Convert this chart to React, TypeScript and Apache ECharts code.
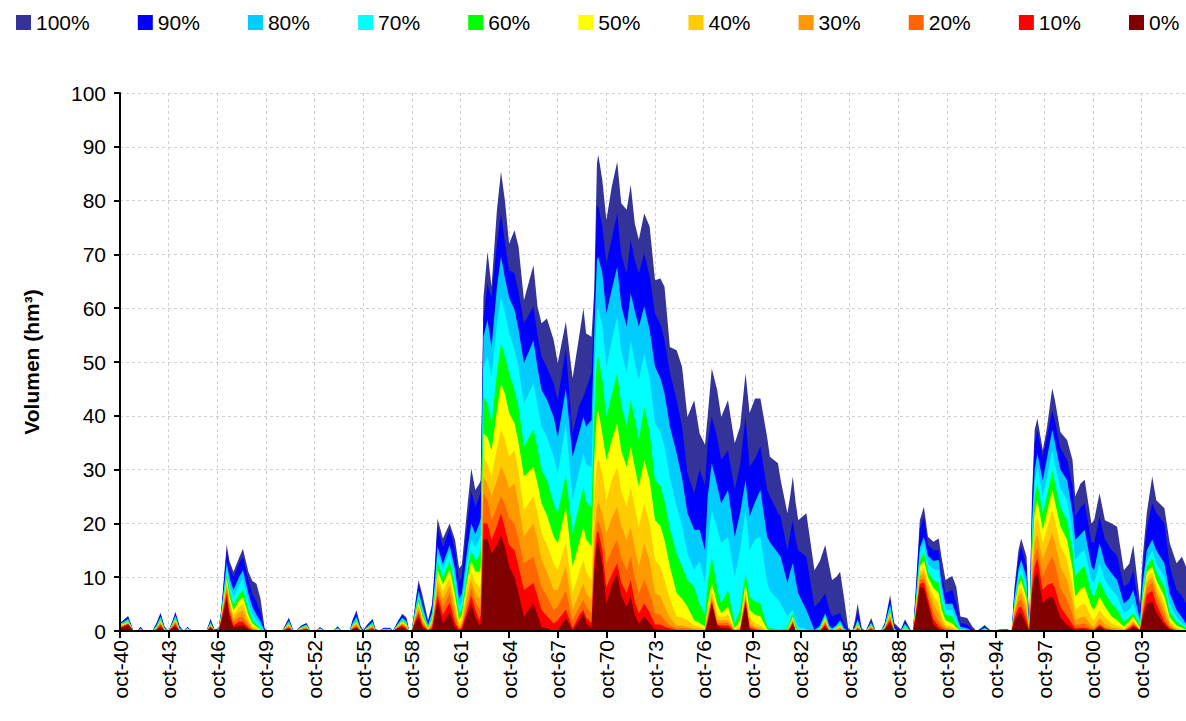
import React, { useEffect, useRef } from "react";
import * as echarts from "echarts";

// months since oct-1940 (x positions of the sampled values)
const months = [
  0,6,10,13,15,18,24,27,30,33,36,39,41,44,47,50,53,64,67,70,73,75,79,81,84,88,91,95,98,101,104,107,109,
  120,123,125,128,130,134,138,141,145,148,152,158,161,164,170,172,175,178,180,183,187,189,192,195,200,202,206,209,212,214,216,
  219,221,224,228,231,233,235,239,244,248,251,253,257,260,263,266,267,
  269,272,275,279,282,285,288,292,295,299,306,309,312,316,321,324,330,335,340,343,345,349,
  351,353,354,357,360,364,368,371,375,378,381,384,388,392,396,400,403,407,412,416,420,425,429,433,
  435,438,442,445,450,455,459,463,466,470,474,479,481,487,489,494,496,498,500,502,508,514,
  518,522,525,527,530,533,536,539,542,544,546,549,552,556,559,563,566,570,573,575,578,581,585,587,589,592,595,598,602,606,608,611,616,619,622,627,631,634,637,640,644,647,651,657,660,
  662,665,667,671,673,675,677,679,683,686,690,692,696,701,705,707,711,714,719,721,725,729,734,738,743,747,750,755,757,760,764,767,773,777,782,786,789,
];

const p100 = [
  1.5,2.8,0,0,0.8,0,0,1.5,3.4,0.8,0,2.0,3.6,1.0,0,0.8,0,0,2.3,0.3,0.5,4,16.1,13,11,13.5,15.3,11,9.3,8.8,6,0.5,0,
  0,1.5,2.5,0.3,0,1.0,1.5,0,0,0.75,0,0,0.9,0,0,2,3.85,1.0,0.2,1.2,2.3,0.4,0,0.6,0.6,0,2.0,3.2,2.5,0,0,
  6,9.5,6.5,2.0,5,12,20.9,17.2,20,16.9,11.6,12.3,22.8,30.2,26.2,27.4,28,
  62,70.5,64,78.3,85.4,79.8,72,74.5,71.4,61.5,68,60.3,57.2,58.1,54.1,49.8,57.5,47,55,60,55.3,54.7,
  63.4,86.9,88.5,83.8,76.4,82.6,87.2,79.5,78.3,82.9,75.8,72.7,77.6,75.2,65.2,65.5,64,52.8,52.2,49.1,39.8,42.9,36.7,34.6,
  40,48.8,44.8,39.8,42.9,34.9,38,47.9,40.5,43.2,43.2,36,32.4,31.2,28,21.9,25,28.7,24,20.6,21.9,11.3,
  13,16,12,9.5,10,11,6,0.5,0,2,5.1,0.5,0,2.4,0.2,0,1.5,6.7,1.5,1,0.3,2.2,0.3,0,8,20.6,23.1,17.5,16.6,17.2,13.8,9.5,10.2,8.2,2.7,2.4,0.8,0,0.5,1.1,0.2,0,0.3,0.3,0,
  8,15,17.2,13.8,0.5,25,37.4,39.5,33.6,37.7,45.1,42.9,37,35.5,31.8,25,27.4,28.1,20,20.6,25.6,20.6,20,19.4,11.3,12.5,16,5.1,13.8,22,28.7,24.3,22.8,16.3,12.6,13.8,12,
];
const p90 = [
  1.4,2.6,0,0,0.7,0,0,1.3,3.1,0.6,0,1.8,3.3,0.8,0,0.7,0,0,2.0,0.2,0.4,3.8,15,12,10,12.5,13.8,9.5,6.9,5.5,3.5,0.3,0,
  0,1.3,2.2,0.2,0,0.9,1.4,0,0,0.6,0,0,0.8,0,0,1.7,3.3,0.8,0.1,1.0,2.0,0.3,0,0.5,0.5,0,1.8,2.9,2.2,0,0,
  5.5,8.8,5.5,1.6,4.5,11,19.4,15.5,19,15,9,10,20,26,23,25,26,
  58,64.6,62,72,77.6,72,67,66.5,63,57.2,60.3,55,51,49,46,43,52.5,36.7,42,43.6,45,48,
  60,78.9,79,75.2,68.3,73,77.6,70,66.5,72.7,69,66.5,70.2,66,59,57,54.1,48,43,38,29.3,25.6,30,27,
  35,39.8,36,31.8,33.6,26.2,31,39.8,30.5,32,34.3,26.2,25,22,21.3,15,18,20.6,17,15,13.8,4.5,
  5.5,7,4,2.7,3,3.3,1.5,0.2,0,1.2,3.5,0.2,0,2,0,0,1.3,6,1,0.5,0.2,1.8,0,0,7,19,21.3,16,15,15,11,7,7.6,5,1.5,1.2,0.3,0,0.3,0.8,0,0,0.3,0.3,0,
  7,13.5,15.7,12,0.3,23,35,37.4,32.4,36,41,39,34,31.8,27,21.3,23,23.7,16.5,16.3,21.3,17,15,14,8.2,9,11.3,3,11,19,23.7,22,20,12,7.6,6.5,5.1,
];
const p80 = [
  1.3,2.3,0,0,0.5,0,0,1.0,2.7,0.5,0,1.6,2.9,0.6,0,0.6,0,0,1.7,0.1,0.3,3.5,12.8,10,7.6,10,11.3,7.0,4.5,3,1.8,0.1,0,
  0,1.1,1.9,0.1,0,0.8,1.2,0,0,0.5,0,0,0.6,0,0,1.4,2.7,0.6,0,0.8,1.7,0.2,0,0.4,0.4,0,1.5,2.5,1.8,0,0,
  4.8,7.5,4.5,1.1,3.6,9,15.7,12.5,16,11.5,6,7,15,20,18,20,21,
  54.7,57.8,52.8,64,69.6,65.5,62,59.7,56,49.8,54,49,44.8,43,39.8,36,45,32.4,37,39.8,38,39.2,
  55,69,69.5,66.5,59,63.5,67.7,60.5,56.6,62.8,59.5,56.6,60.3,56,49.1,47,44.2,38,33,28.5,21.9,18.8,18.8,15,
  25,31.2,27,23.7,26.2,17.5,22,28,21.3,24,26.2,17.5,16.5,14.5,13.8,8.9,11,12.6,9.5,7,3.9,0.2,
  1,3.3,1,0.5,1,2,0.5,0,0,0.8,2.2,0,0,1.6,0,0,1.1,5,0.6,0,0.1,1.4,0,0,6,15.5,17.5,14,13,13.2,9,5,5.1,3,0.8,0.5,0,0,0.2,0.6,0,0,0.3,0.2,0,
  6,11.5,13.2,10,0.2,20,30,33,28,32,37.4,35,30,28,22,16.9,18,18.8,12,11.3,16.3,12.5,10.7,9.5,5.1,6,7.6,2,9,15,17,15,12.6,7,3.9,2.5,1.4,
];
const p70 = [
  1.2,2.1,0,0,0.4,0,0,0.9,2.5,0.4,0,1.5,2.7,0.5,0,0.5,0,0,1.5,0.1,0.3,3.3,11.8,9,6.3,8.5,9.7,5.5,3.2,2,1.0,0,0,
  0,1.0,1.7,0.1,0,0.7,1.1,0,0,0.45,0,0,0.5,0,0,1.2,2.3,0.5,0,0.7,1.5,0.1,0,0.35,0.35,0,1.3,2.2,1.6,0,0,
  4.5,6.8,3.8,0.9,3.0,8,14.4,11.5,14.8,10,4.5,5.5,13,17,15.5,17,18,
  49,51,47.3,57,62,59,55.5,52.2,49,42.3,46,42,38,36,32.4,29.3,38.5,24.3,30,33,31,30.5,
  48,59.7,60,56.6,49.1,54,58.4,52,47.9,54.1,50,46.7,51.6,47,38.6,37,34.3,28.5,23.1,19.5,14.4,11.3,13,9,
  16,22.5,19,16.3,17.5,10.1,15,22.5,15,17,17.5,8.9,7.5,5.8,5.1,2.7,3.5,3.9,2,0.8,0.3,0,
  0.5,3.0,0.5,0,0.8,1.6,0.2,0,0,0.6,1.8,0,0,1.4,0,0,1,4.5,0.4,0,0,1.0,0,0,5.5,14.5,16.3,12.5,11.5,11.3,7.5,4,3.9,2,0.4,0.2,0,0,0.1,0.5,0,0,0.25,0.2,0,
  5.5,10.5,12,8.5,0.1,18,27.5,30.5,25,28.5,33.6,31,26.5,24.3,18.5,13.2,14.5,15,9.5,8.9,12.6,9.5,7.6,6.5,3.3,4,5.1,1.5,8,13,15,12.5,10.1,5,2.7,1.5,1,
];
const p60 = [
  1.1,1.9,0,0,0.3,0,0,0.8,2.2,0.3,0,1.3,2.4,0.4,0,0.4,0,0,1.3,0,0.2,3.1,10.5,7.5,4.8,6.8,7.6,4,2.0,1.2,0.5,0,0,
  0,0.9,1.5,0.1,0,0.6,1.0,0,0,0.4,0,0,0.45,0,0,1.0,2.0,0.4,0,0.6,1.3,0.1,0,0.3,0.3,0,1.2,2.0,1.4,0,0,
  4,6.0,3.2,0.7,2.5,7,12.9,10,13,8,3,4,11,15,13,14,15,
  43.6,42.3,38.6,48,53.5,51,48,44.8,41.5,34.3,37.4,34,29.9,28,23.7,21.9,29,18.2,23.5,26.8,24,23,
  40,50.4,51,46.7,39.8,44,47.9,42,38,42.9,39.5,35.5,41.7,37,28,27,24.3,19,14.4,12,9.5,8.2,5,3,
  9,13.8,8,5.1,7.6,1.4,4,10.7,6.4,5.5,5.1,0.8,0.5,0.3,0.3,0.5,2,3.3,1,0.2,0,0,
  0.3,2.8,0.3,0,0.6,1.3,0,0,0,0.5,1.5,0,0,1.2,0,0,0.9,4,0.3,0,0,0.7,0,0,5,13,14.7,11,9.5,8.9,5.5,3,2.7,1.2,0.2,0,0,0,0,0.4,0,0,0.2,0.1,0,
  5,9.5,10.7,7,0,16,25,27.4,21.9,25,29.9,27.5,23,20.6,15,10.1,11.5,12,7,6.4,9.5,7,5.1,4,1.7,2.5,3.3,1,7,12,13.5,11,8.2,3.5,1.7,1,0.6,
];
const p50 = [
  1.0,1.7,0,0,0.25,0,0,0.7,2.0,0.25,0,1.2,2.2,0.3,0,0.35,0,0,1.2,0,0.2,2.9,9.8,6.5,3.8,5.6,6.3,3,1.4,0.8,0.3,0,0,
  0,0.8,1.3,0,0,0.5,0.9,0,0,0.35,0,0,0.4,0,0,0.9,1.7,0.3,0,0.5,1.1,0,0,0.25,0.25,0,1.1,1.8,1.2,0,0,
  3.6,5.4,2.7,0.5,2.1,6.2,11.3,8.7,11.5,6.5,2,3,9.5,13,11,11,12,
  36.7,36,33.6,41,46,44,40.5,38.6,35,28.7,30.5,27.5,23.7,21.5,17.5,16.3,23,12,16.5,19.4,17,15.7,
  32,40.5,41,36.7,31.8,35.5,38.6,33.5,30.5,34.3,30.5,26.8,31.8,28,20.6,19.5,16.9,12,7,6,4.5,2,1.5,0.8,
  5,8.9,5,3.3,4.5,0.5,2,8.9,3.9,3,2.7,0.3,0.2,0.1,0,0.3,1.5,2.7,0.5,0,0,0,
  0.2,2.5,0.2,0,0.5,1.1,0,0,0,0.4,1.2,0,0,1.0,0,0,0.8,3.5,0.2,0,0,0.5,0,0,4.6,12,13.2,10,8,7,4,2,1.4,0.6,0,0,0,0,0,0.3,0,0,0.15,0,0,
  4.5,8.5,9.5,6,0,14,22,24.3,18.8,22,26.2,24,19.5,16.9,11.5,6.4,7.8,8.2,4.5,3.9,6.4,4.5,2.7,2,0.8,1.8,2.7,0.5,6.2,11,12,9.5,6.4,2.5,1,0.6,0.3,
];
const p40 = [
  0.9,1.6,0,0,0.2,0,0,0.6,1.8,0.2,0,1.1,2.0,0.25,0,0.3,0,0,1.1,0,0.1,2.7,9.2,5.7,2.9,4.5,5.1,2.2,0.9,0.5,0.2,0,0,
  0,0.7,1.2,0,0,0.45,0.8,0,0,0.3,0,0,0.35,0,0,0.8,1.5,0.25,0,0.4,1.0,0,0,0.2,0.2,0,1.0,1.6,1.0,0,0,
  3.3,4.9,2.2,0.4,1.7,5.5,10.1,7.4,10,5,1.3,2.2,8,11,9,8,9,
  32.4,31,28.7,34,37.4,35.5,32.5,33.6,29.5,22.5,25,22,18.2,16,12.6,11.3,16.5,7,11,13.2,11,9.5,
  25,31.2,32,29.3,24.3,28,30.5,26,23.1,26.8,23,19.4,23.7,20,13.2,12,9.5,6,2.7,2.5,2,1,0.8,0.4,
  4,7.6,3,2.5,3,0.3,1,7.6,2.5,1.5,1,0.1,0,0,0,0.2,1.2,2.3,0.3,0,0,0,
  0.1,2.2,0.1,0,0.4,0.9,0,0,0,0.3,1.0,0,0,0.9,0,0,0.7,3.2,0,0,0,0.4,0,0,4.2,11,11.8,9,6.5,5.1,2.8,1.2,0.8,0.3,0,0,0,0,0,0.2,0,0,0.1,0,0,
  4,7.5,8.2,5,0,12.5,19.5,21.3,16.3,19,22.5,20.5,16,13.2,8.5,3.9,4.8,5.1,2.5,2,3.9,2.5,1.4,1,0.4,1.3,2,0.3,5.5,10,11,8.5,5.1,1.8,0.6,0.3,0.2,
];
const p30 = [
  0.8,1.5,0,0,0.15,0,0,0.5,1.6,0.15,0,1.0,1.8,0.2,0,0.25,0,0,1.0,0,0.1,2.5,8.5,5,2.3,3.5,3.8,1.5,0.5,0.3,0.1,0,0,
  0,0.6,1.0,0,0,0.4,0.7,0,0,0.25,0,0,0.3,0,0,0.7,1.3,0.2,0,0.35,0.9,0,0,0.15,0.15,0,0.9,1.4,0.8,0,0,
  3.0,4.4,1.8,0.3,1.4,4.8,8.9,6,8.5,3.8,0.8,1.5,6.5,9.5,7,6,7,
  28.6,27.4,25,28,30.5,29,26.5,27.4,23.5,17.5,20,17,13.2,11,7.6,7.6,12,3.9,7,8.9,7,5.8,
  18,23.1,24,21.9,18.2,21,23.1,19.5,16.9,19.4,15.5,12,16.3,13,7,6.5,4.5,2.5,1,1,0.8,0.5,0.4,0.2,
  3,6.5,2,2,2,0.2,0.5,6.8,1.5,0.8,0.5,0,0,0,0,0.1,1,2,0.2,0,0,0,
  0.1,1.8,0,0,0.3,0.7,0,0,0,0.2,0.8,0,0,0.8,0,0,0.6,2.8,0,0,0,0.3,0,0,3.8,10.2,10.8,8,5,3.3,1.8,0.7,0.4,0.1,0,0,0,0,0,0.1,0,0,0.05,0,0,
  3.5,6.5,7,4,0,11,16.5,18,13.2,15.5,18.2,16.5,12,9.5,5.5,2,2.5,2.7,1,0.8,2.4,1.2,0.6,0.5,0.2,1,1.7,0.2,4.8,9,10,7.5,3.9,1.2,0.3,0.2,0.2,
];
const p20 = [
  0.7,1.4,0,0,0.1,0,0,0.4,1.3,0.1,0,0.9,1.5,0.15,0,0.2,0,0,0.9,0,0.1,2.3,7.8,4.2,1.7,2.5,2.6,1.0,0.3,0.2,0,0,0,
  0,0.5,0.8,0,0,0.3,0.55,0,0,0.2,0,0,0.2,0,0,0.5,1.0,0.15,0,0.3,0.7,0,0,0.1,0.1,0,0.8,1.2,0.6,0,0,
  2.6,3.8,1.4,0.2,1.0,4.2,7.6,4.5,7,2.6,0.5,1.0,5,8,5.5,4,5,
  25.6,24.3,20.6,23,25,23.5,21,20,17,12.6,13.8,11,8.2,6.5,3.9,4.5,7.5,2,4.5,5.8,4.5,3.3,
  15,20,20.5,18.2,12.6,15,16.9,13.5,11.3,13.8,10,7,9.5,7,3.3,3,2,1,0.5,0.5,0.4,0.2,0.2,0.1,
  2.5,6,1.5,1.5,1.5,0.1,0.3,6.2,1,0.5,0.2,0,0,0,0,0,0.8,1.8,0.1,0,0,0,
  0,1.5,0,0,0.2,0.5,0,0,0,0.1,0.6,0,0,0.6,0,0,0.5,2.4,0,0,0,0.2,0,0,3.4,9.5,9.8,7,3.5,1.7,1,0.4,0.2,0,0,0,0,0,0,0,0,0,0,0,0,
  3,5.5,5.8,3,0,9.5,14,15.5,10.1,12,13.8,12.5,8,5.8,3,1.1,1.3,1.4,0.5,0.4,1.4,0.6,0.3,0.2,0.1,0.7,1.4,0.2,4,8,9,6.5,2.7,0.8,0.1,0.1,0.1,
];
const p10 = [
  0.6,1.3,0,0,0.05,0,0,0.3,1.1,0.05,0,0.8,1.2,0.1,0,0.1,0,0,0.8,0,0.1,2.1,7.0,3.5,1.0,1.7,1.7,0.6,0.2,0.1,0,0,0,
  0,0.4,0.6,0,0,0.2,0.4,0,0,0.1,0,0,0.1,0,0,0.4,0.8,0.1,0,0.2,0.5,0,0,0.05,0.05,0,0.7,1.0,0.4,0,0,
  2.2,3.2,1.0,0.1,0.6,3.5,6.6,3,5.3,1.5,0.3,0.6,4,6.5,4,2,3,
  20,20,16.9,19.5,21.9,19,16,15,12,7.6,8.9,6.5,3.9,2.8,1.4,2,4,0.5,3,3.9,2.5,1.5,
  13,18.2,18.5,15,8.2,10.5,12.6,9,7,9.5,5.5,3.3,5.1,3.5,1.2,1.2,0.8,0.5,0.2,0.2,0.2,0,0.1,0,
  2,5.5,1.2,1,1,0,0.2,5.6,0.6,0.3,0.1,0,0,0,0,0,0.6,1.6,0,0,0,0,
  0,1.2,0,0,0.1,0.3,0,0,0,0,0.4,0,0,0.4,0,0,0.4,2,0,0,0,0.1,0,0,3,8.8,9,6,2.2,0.8,0.5,0.2,0.1,0,0,0,0,0,0,0,0,0,0,0,0,
  2.4,4.3,4.5,2,0,8,12,13.5,7.6,8.5,8.9,8,4.5,2.7,1.2,0.5,0.6,0.6,0.3,0.2,1.1,0.4,0.2,0.1,0,0.5,1.1,0.2,3.2,6.8,7.5,5,1.7,0.5,0.1,0.1,0.1,
];
const p0 = [
  0.5,1.1,0,0,0,0,0,0.2,0.8,0,0,0.6,0.9,0,0,0.05,0,0,0.6,0,0.1,1.8,6.0,2.8,0.6,1.0,1.0,0.3,0.1,0,0,0,0,
  0,0.3,0.4,0,0,0.1,0.3,0,0,0,0,0,0.05,0,0,0.3,0.6,0,0,0.1,0.3,0,0,0,0,0,0.5,0.7,0.2,0,0,
  1.8,2.5,0.6,0,0.3,2.8,5.5,1.5,3.5,0.7,0,0.3,3,5,2.5,1,1.5,
  16.9,17.2,14.4,16,17.8,15.5,12,10.1,7,2.7,5.1,3,0.8,0.5,0,0,2.5,0,2,3.3,1.5,0.5,
  11,16.3,16.5,12.6,5.1,8.5,10.7,6.5,4.5,6.4,3,1.4,2.7,1.5,0.3,0.3,0.3,0.1,0,0,0,0,0,0,
  1.5,5.1,1,0.5,0.5,0,0.1,5.1,0.3,0.1,0,0,0,0,0,0,0.4,1.4,0,0,0,0,
  0,0.8,0,0,0,0.2,0,0,0,0,0.2,0,0,0.2,0,0,0.3,1.5,0,0,0,0,0,0,2.6,8.2,8,5,1.2,0.3,0.2,0,0,0,0,0,0,0,0,0,0,0,0,0,0,
  1.8,3.2,3.3,1,0,7,10,11,5.1,6,6.4,5.5,2.5,1.1,0.5,0.2,0.3,0.3,0.1,0.1,0.8,0.2,0,0,0,0.3,0.8,0.2,2.5,5,5.5,3.5,1.1,0.3,0.1,0.1,0.1,
];

const seriesNames = ["100%", "90%", "80%", "70%", "60%", "50%", "40%", "30%", "20%", "10%", "0%"];
const seriesValues = [p100, p90, p80, p70, p60, p50, p40, p30, p20, p10, p0];
const seriesColors = ["#333399", "#0000FF", "#00CCFF", "#00FFFF", "#00FF00", "#FFFF00", "#FFCC00", "#FF9900", "#FF6600", "#FF0000", "#800000"];

const tickLabels = [
  "oct-40", "oct-43", "oct-46", "oct-49", "oct-52", "oct-55", "oct-58", "oct-61", "oct-64", "oct-67", "oct-70",
  "oct-73", "oct-76", "oct-79", "oct-82", "oct-85", "oct-88", "oct-91", "oct-94", "oct-97", "oct-00", "oct-03",
];
const yTicks = { min: 0, max: 100, interval: 10 };
const xRange = { min: 0, max: 789, interval: 36 };

const FONT = "'Liberation Sans', Arial, sans-serif";

export default function App() {
  const ref = useRef<HTMLDivElement>(null);
  useEffect(() => {
    if (!ref.current) return;
    const chart = echarts.init(ref.current, undefined, { renderer: "svg" });
    const series = seriesNames.map((name, i) => {
      const vals = seriesValues[i];
      const n = Math.min(vals.length, months.length);
      const data: [number, number][] = [];
      for (let j = 0; j < n; j++) data.push([months[j], vals[j]]);
      return {
        name,
        type: "line",
        data,
        showSymbol: false,
        symbol: "none",
        silent: true,
        z: 2 + i,
        lineStyle: { width: 0 },
        itemStyle: { color: seriesColors[i] },
        areaStyle: { color: seriesColors[i], opacity: 1 },
      };
    });
    const dashed = { color: "#d0d0d0", width: 1, type: [3, 3] as any };
    chart.setOption({
      animation: false,
      color: seriesColors,
      textStyle: { fontFamily: FONT },
      legend: {
        data: seriesNames,
        left: 16,
        top: 12,
        width: 1170,
        padding: 0,
        icon: "rect",
        itemWidth: 15,
        itemHeight: 15,
        itemGap: 48.1,
        textStyle: { fontSize: 21, color: "#000", fontFamily: FONT },
      },
      grid: { left: 120, right: 0, top: 93, bottom: 90, outerBoundsMode: "none" },
      xAxis: [
        {
          type: "value",
          ...xRange,
          z: 0,
          axisLine: { show: false },
          axisTick: { show: false },
          axisLabel: { show: false },
          splitLine: { show: true, lineStyle: dashed },
        },
        {
          type: "value",
          position: "bottom",
          ...xRange,
          z: 30,
          axisLine: { show: true, onZero: false, lineStyle: { color: "#000", width: 2 } },
          axisTick: { show: true, length: 7, lineStyle: { color: "#000", width: 2 } },
          splitLine: { show: false },
          axisLabel: {
            rotate: 90,
            margin: 9,
            fontSize: 21,
            color: "#000",
            fontFamily: FONT,
            showMaxLabel: false,
            formatter: (v: number) => tickLabels[Math.round(v / 36)] ?? "",
          },
        },
      ],
      yAxis: [
        {
          type: "value",
          ...yTicks,
          z: 0,
          axisLine: { show: false },
          axisTick: { show: false },
          axisLabel: { show: false },
          splitLine: { show: true, lineStyle: dashed },
        },
        {
          type: "value",
          position: "left",
          ...yTicks,
          z: 30,
          name: "Volumen (hm³)",
          nameLocation: "middle",
          nameGap: 78,
          nameTextStyle: { fontSize: 21, fontWeight: "bold", color: "#000", fontFamily: FONT },
          axisLine: { show: true, onZero: false, lineStyle: { color: "#000", width: 2 } },
          axisTick: { show: true, length: 6, lineStyle: { color: "#000", width: 2 } },
          splitLine: { show: false },
          axisLabel: { margin: 14, fontSize: 21, color: "#000", fontFamily: FONT },
        },
      ],
      series,
    });
    return () => chart.dispose();
  }, []);
  return (
    <div
      ref={ref}
      style={{ position: "absolute", left: 0, top: 0, width: 1186, height: 721, background: "#fff" }}
    />
  );
}
